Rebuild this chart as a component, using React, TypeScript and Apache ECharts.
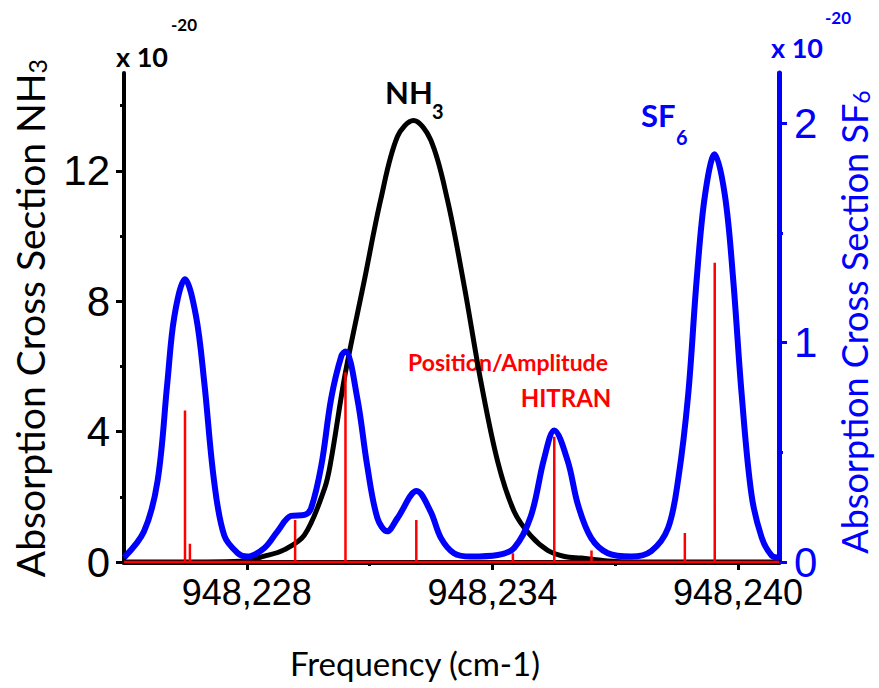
import React, { useEffect, useRef } from 'react';
import * as echarts from 'echarts';

// ---------- data ----------
const xMin = 948225;
const xMax = 948241;
const xMajorTicks = [948228, 948234, 948240];
const xMinorTicks = [948231, 948237];
const leftMajorTicks = [0, 4, 8, 12];
const leftMinorTicks = [2, 6, 10, 14];
const rightMajorTicks = [0, 1, 2];
const rightMinorTicks = [0.5, 1.5];

// NH3 cross section (left axis, x 1e-20)
const nh3Freq = [
  948225.0, 948227.0, 948227.84, 948228.43, 948228.92, 948229.41, 948229.9, 948230.05,
  948230.4, 948230.86, 948231.27, 948231.68, 948232.07, 948232.49, 948232.9, 948233.31,
  948233.72, 948234.13, 948234.53, 948234.94, 948235.35, 948235.76, 948236.17, 948236.82,
  948237.5, 948241.0,
];
const nh3Vals = [
  0, 0, 0.02, 0.18, 0.38, 0.83, 2.26, 3.07,
  5.75, 8.57, 11.11, 13.05, 13.54, 12.95, 11.11, 8.47,
  5.52, 3.07, 1.55, 0.8, 0.36, 0.17, 0.12, 0.03,
  0, 0,
];

// SF6 cross section (right axis, x 1e-20)
const sf6Freq = [
  948225.0, 948225.49, 948225.82, 948226.06, 948226.23, 948226.49, 948226.76, 948226.96,
  948227.2, 948227.45, 948227.78, 948228.01, 948228.43, 948228.75, 948229.08, 948229.41,
  948229.57, 948229.82, 948230.06, 948230.31, 948230.41, 948230.7, 948230.94, 948231.19,
  948231.43, 948231.68, 948232.15, 948232.49, 948232.74, 948233.06, 948233.47, 948234.13,
  948234.53, 948234.94, 948235.26, 948235.51, 948235.84, 948236.09, 948236.41, 948236.82,
  948237.39, 948237.88, 948238.29, 948238.54, 948238.78, 948238.99, 948239.19, 948239.43,
  948239.68, 948239.88, 948240.09, 948240.33, 948240.58, 948240.82, 948241.0,
];
const sf6Vals = [
  0.02, 0.14, 0.37, 0.82, 1.12, 1.29, 1.12, 0.82,
  0.37, 0.12, 0.04, 0.025, 0.064, 0.14, 0.21, 0.215,
  0.245, 0.44, 0.745, 0.94, 0.96, 0.745, 0.44, 0.2,
  0.14, 0.2, 0.324, 0.23, 0.11, 0.04, 0.025, 0.032,
  0.064, 0.21, 0.47, 0.6, 0.46, 0.26, 0.11, 0.04,
  0.025, 0.05, 0.155, 0.38, 0.76, 1.29, 1.67, 1.86,
  1.67, 1.29, 0.76, 0.305, 0.11, 0.03, 0.02,
];

// HITRAN line positions / amplitudes (left axis scale)
const hitranFreq = [
  948226.49, 948226.61, 948229.18, 948230.41, 948232.14,
  948234.5, 948235.51, 948236.42, 948238.7, 948239.43,
];
const hitranAmp = [4.65, 0.56, 1.29, 5.82, 1.29, 0.27, 3.84, 0.35, 0.89, 9.18];

// ---------- helpers ----------
const zip = (xs: number[], ys: number[]) => xs.map((x, i) => [x, ys[i]]);

function stickData(): number[][] {
  const pts: number[][] = [[xMin, 0]];
  hitranFreq.forEach((f, i) => {
    pts.push([f, 0], [f, hitranAmp[i]], [f, 0]);
  });
  pts.push([xMax, 0]);
  return pts;
}

const BLUE = '#0000ff';
const RED = '#ff0000';
const TICK_FONT = '"Liberation Sans", Arial, sans-serif';
const TITLE_FONT = 'Lato, "Open Sans", sans-serif';

const fmtFreq = (v: number) => Math.round(v).toLocaleString('en-US');

export default function App() {
  const ref = useRef<HTMLDivElement>(null);

  useEffect(() => {
    if (!ref.current) return;
    const chart = echarts.init(ref.current, null, { renderer: 'svg' });

    const option: any = {
      animation: false,
      backgroundColor: '#ffffff',
      grid: { left: 124, right: 100, top: 73, bottom: 126, containLabel: false },
      xAxis: [
        {
          type: 'value',
          min: xMin,
          max: xMax,
          interval: 3,
          offset: 2,
          axisLine: { show: true, lineStyle: { color: '#000', width: 5 } },
          axisTick: { show: true, length: 8, customValues: xMajorTicks, lineStyle: { color: '#000', width: 3 } },
          axisLabel: {
            show: true,
            customValues: xMajorTicks,
            formatter: (v: number) => fmtFreq(v),
            fontFamily: TICK_FONT,
            fontSize: 36,
            lineHeight: 30,
            color: '#000',
            margin: 13,
          },
          splitLine: { show: false },
        },
        {
          type: 'value',
          min: xMin,
          max: xMax,
          interval: 3,
          offset: 2,
          position: 'bottom',
          axisLine: { show: false },
          axisTick: { show: true, length: 4, customValues: xMinorTicks, lineStyle: { color: '#000', width: 3 } },
          axisLabel: { show: false },
          splitLine: { show: false },
        },
      ],
      yAxis: [
        {
          type: 'value',
          position: 'left',
          min: 0,
          max: 15,
          interval: 4,
          axisLine: { show: true, lineStyle: { color: '#000', width: 4 } },
          axisTick: { show: true, length: 8, customValues: leftMajorTicks, lineStyle: { color: '#000', width: 3 } },
          axisLabel: {
            customValues: leftMajorTicks,
            fontFamily: TICK_FONT,
            fontSize: 42,
            lineHeight: 30,
            color: '#000',
            margin: 14,
          },
          splitLine: { show: false },
        },
        {
          type: 'value',
          position: 'right',
          min: 0,
          max: 2.23,
          interval: 1,
          axisLine: { show: true, lineStyle: { color: BLUE, width: 5 } },
          axisTick: { show: true, length: 8, customValues: rightMajorTicks, lineStyle: { color: BLUE, width: 3 } },
          axisLabel: {
            customValues: rightMajorTicks,
            fontFamily: TICK_FONT,
            fontSize: 42,
            lineHeight: 28,
            color: BLUE,
            margin: 15,
          },
          splitLine: { show: false },
        },
        {
          type: 'value',
          position: 'left',
          min: 0,
          max: 15,
          interval: 2,
          axisLine: { show: false },
          axisTick: { show: true, length: 4, customValues: leftMinorTicks, lineStyle: { color: '#000', width: 3 } },
          axisLabel: { show: false },
          splitLine: { show: false },
        },
        {
          type: 'value',
          position: 'right',
          min: 0,
          max: 2.23,
          interval: 0.5,
          axisLine: { show: false },
          axisTick: { show: true, length: 4, customValues: rightMinorTicks, lineStyle: { color: BLUE, width: 3 } },
          axisLabel: { show: false },
          splitLine: { show: false },
        },
      ],
      series: [
        {
          name: 'NH3',
          type: 'line',
          xAxisIndex: 0,
          yAxisIndex: 0,
          data: zip(nh3Freq, nh3Vals),
          showSymbol: false,
          smooth: 0.35,
          lineStyle: { color: '#000', width: 5 },
          z: 2,
        },
        {
          name: 'SF6',
          type: 'line',
          xAxisIndex: 0,
          yAxisIndex: 1,
          data: zip(sf6Freq, sf6Vals),
          showSymbol: false,
          smooth: 0.35,
          lineStyle: { color: BLUE, width: 6 },
          z: 3,
        },
        {
          name: 'HITRAN',
          type: 'line',
          xAxisIndex: 0,
          yAxisIndex: 0,
          data: stickData(),
          showSymbol: false,
          smooth: false,
          lineStyle: { color: RED, width: 2.5 },
          z: 4,
        },
      ],
      graphic: [
        // left multiplier
        { type: 'text', x: 142, y: 56, style: { text: 'x 10', fontFamily: TITLE_FONT, fontWeight: 'bold', fontSize: 27, fill: '#000', align: 'center', verticalAlign: 'middle' } },
        { type: 'text', x: 184, y: 24, style: { text: '-20', fontFamily: TITLE_FONT, fontWeight: 'bold', fontSize: 17, fill: '#000', align: 'center', verticalAlign: 'middle' } },
        // right multiplier
        { type: 'text', x: 797, y: 47, style: { text: 'x 10', fontFamily: TITLE_FONT, fontWeight: 'bold', fontSize: 27, fill: BLUE, align: 'center', verticalAlign: 'middle' } },
        { type: 'text', x: 838, y: 17, style: { text: '-20', fontFamily: TITLE_FONT, fontWeight: 'bold', fontSize: 17, fill: BLUE, align: 'center', verticalAlign: 'middle' } },
        // NH3 label
        { type: 'text', x: 385, y: 92, style: { text: 'NH', fontFamily: TITLE_FONT, fontWeight: 'bold', fontSize: 31, fill: '#000', align: 'left', verticalAlign: 'middle' } },
        { type: 'text', x: 432, y: 111, style: { text: '3', fontFamily: TITLE_FONT, fontWeight: 'bold', fontSize: 20, fill: '#000', align: 'left', verticalAlign: 'middle' } },
        // SF6 label
        { type: 'text', x: 641, y: 115, style: { text: 'SF', fontFamily: TITLE_FONT, fontWeight: 'bold', fontSize: 31, fill: BLUE, align: 'left', verticalAlign: 'middle' } },
        { type: 'text', x: 676, y: 137, style: { text: '6', fontFamily: TITLE_FONT, fontWeight: 'bold', fontSize: 20, fill: BLUE, align: 'left', verticalAlign: 'middle' } },
        // HITRAN label
        { type: 'text', x: 508, y: 362, style: { text: 'Position/Amplitude', fontFamily: TITLE_FONT, fontWeight: 'bold', fontSize: 23, fill: RED, align: 'center', verticalAlign: 'middle' } },
        { type: 'text', x: 566, y: 397, style: { text: 'HITRAN', fontFamily: TITLE_FONT, fontWeight: 'bold', fontSize: 24, fill: RED, align: 'center', verticalAlign: 'middle' } },
        // axis titles
        {
          type: 'text', x: 30, y: 318, rotation: Math.PI / 2,
          style: {
            text: '{a|Absorption Cross Section NH}{b|3}',
            align: 'center', verticalAlign: 'middle', fill: '#000',
            rich: {
              a: { fontFamily: TITLE_FONT, fontSize: 39, lineHeight: 39, fill: '#000', verticalAlign: 'bottom' },
              b: { fontFamily: TITLE_FONT, fontSize: 25, lineHeight: 32, fill: '#000', verticalAlign: 'bottom' },
            },
          },
        },
        {
          type: 'text', x: 854, y: 322, rotation: Math.PI / 2,
          style: {
            text: '{a|Absorption Cross Section SF}{b|6}',
            align: 'center', verticalAlign: 'middle', fill: BLUE,
            rich: {
              a: { fontFamily: TITLE_FONT, fontSize: 36, lineHeight: 36, fill: BLUE, verticalAlign: 'bottom' },
              b: { fontFamily: TITLE_FONT, fontSize: 23, lineHeight: 29, fill: BLUE, verticalAlign: 'bottom' },
            },
          },
        },
        { type: 'text', x: 415, y: 663, style: { text: 'Frequency (cm-1)', fontFamily: TITLE_FONT, fontSize: 33, fill: '#000', align: 'center', verticalAlign: 'middle' } },
      ],
    };

    chart.setOption(option);
    return () => chart.dispose();
  }, []);

  return (
    <div
      ref={ref}
      style={{ position: 'absolute', left: 0, top: 0, width: 879, height: 688, background: '#fff' }}
    />
  );
}
